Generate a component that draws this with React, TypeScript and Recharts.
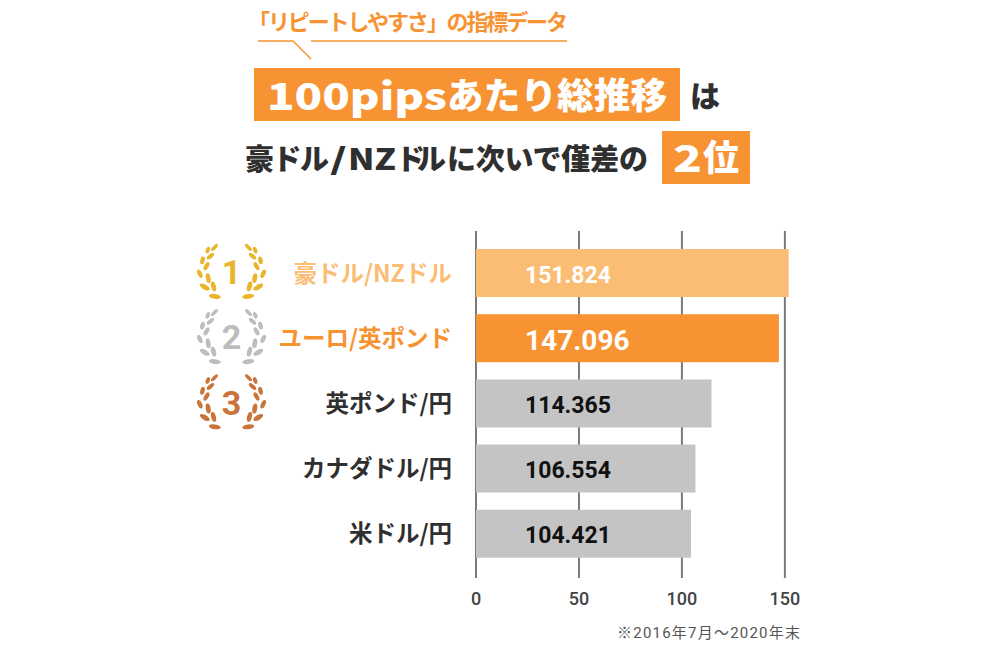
import { BarChart, Bar, XAxis, YAxis, CartesianGrid, Cell, LabelList } from 'recharts';

const pairs = ['豪ドル/NZドル', 'ユーロ/英ポンド', '英ポンド/円', 'カナダドル/円', '米ドル/円'];
const totals = [151.824, 147.096, 114.365, 106.554, 104.421];
const xTicks = [0, 50, 100, 150];
const ranks = ['1', '2', '3'];

const chartData = pairs.map((pair, i) => ({ pair, total: totals[i] }));

const ORANGE = '#f79332';
const LIGHT_ORANGE = '#fbbd74';
const GRAY = '#c4c4c4';
const DARK = '#2f2f2f';
const barColors = [LIGHT_ORANGE, ORANGE, GRAY, GRAY, GRAY];
const labelColors = [LIGHT_ORANGE, ORANGE, DARK, DARK, DARK];
const rankColors = ['#e9b52c', '#bdbdbd', '#c8743a'];

const JP = '"Noto Sans CJK JP", sans-serif';
const NUM = 'Roboto, "Noto Sans CJK JP", sans-serif';

// one side of the laurel: dx, dy, rx, ry, rotation
const leaves = [
  [-17, -24.7, 4.5, 1.8, -45],
  [-23.7, -22, 3.5, 2, -70],
  [-21, -16, 4.5, 2, -40],
  [-29, -11.7, 4, 2.2, -75],
  [-25, -6, 4.5, 2.2, -60],
  [-31.7, 1.7, 4.5, 2.2, 65],
  [-23.3, 6, 5, 2.4, 80],
  [-26.7, 15, 5.5, 2.5, 30],
  [-18, 14.3, 5, 2.4, 75],
  [-16.7, 24.3, 6, 2.4, 8],
];

function Wreath({ cx, cy, rank, color }: { cx: number; cy: number; rank: string; color: string }) {
  return (
    <g>
      {leaves.map(([dx, dy, rx, ry, rot], i) => (
        <g key={i}>
          <ellipse cx={cx + dx} cy={cy + dy} rx={rx} ry={ry} fill={color} transform={`rotate(${rot} ${cx + dx} ${cy + dy})`} />
          <ellipse cx={cx - dx} cy={cy + dy} rx={rx} ry={ry} fill={color} transform={`rotate(${-rot} ${cx - dx} ${cy + dy})`} />
        </g>
      ))}
      <text x={cx} y={cy + 12} textAnchor="middle" fontFamily={NUM} fontWeight={700} fontSize={34} fill={color}>
        {rank}
      </text>
    </g>
  );
}

function PairTick({ x, y, payload, index }: any) {
  return (
    <g>
      {index < ranks.length && <Wreath cx={231.5} cy={y - 0.5} rank={ranks[index]} color={rankColors[index]} />}
      <text x={x - 16} y={y - 1} textAnchor="end" dominantBaseline="central" fontFamily={JP} fontWeight={700} fontSize={23.5} fill={labelColors[index]}>
        {payload.value}
      </text>
    </g>
  );
}

function ValueLabel({ x, y, height, value, index }: any) {
  return (
    <text x={x + 49} y={y + height / 2 + 2} dominantBaseline="central" fontFamily={NUM} fontWeight={700} fontSize={index === 1 ? 28 : 23} fill={index < 2 ? '#ffffff' : '#111111'}>
      {value.toFixed(3)}
    </text>
  );
}

function Heading() {
  const sub = { fontFamily: JP, fontWeight: 900, fontSize: 29, fill: DARK };
  return (
    <svg width={998} height={650} style={{ position: 'absolute', left: 0, top: 0 }}>
      <text x={248} y={30} textLength={320} fontFamily={JP} fontWeight={700} fontSize={22} fill={ORANGE}>
        「リピートしやすさ」の指標データ
      </text>
      <polyline points="258,41 293,41 311,59" fill="none" stroke={ORANGE} strokeWidth={1.5} />
      <line x1={311} y1={41} x2={567} y2={41} stroke={ORANGE} strokeWidth={1.5} />

      <rect x={254} y={68} width={426} height={53} fill={ORANGE} />
      <text x={267} y={110} textLength={180} lengthAdjust="spacingAndGlyphs" fontFamily={JP} fontWeight={900} fontSize={37} fill="#ffffff">
        100pips
      </text>
      <text x={447} y={109} textLength={220} fontFamily={JP} fontWeight={900} fontSize={36.5} fill="#ffffff">
        あたり総推移
      </text>
      <text x={690} y={107} fontFamily={JP} fontWeight={900} fontSize={30} fill={DARK}>
        は
      </text>

      <text x={245} y={170} textLength={84} {...sub}>豪ドル</text>
      <text x={330} y={170} textLength={17} lengthAdjust="spacingAndGlyphs" {...sub}>/</text>
      <text x={348} y={170} textLength={48} lengthAdjust="spacingAndGlyphs" {...sub}>NZ</text>
      <text x={396} y={170} textLength={50} {...sub}>ドル</text>
      <text x={447} y={170} textLength={201} {...sub}>に次いで僅差の</text>

      <rect x={662} y={131} width={88} height={53} fill={ORANGE} />
      <text x={673} y={172} textLength={29} lengthAdjust="spacingAndGlyphs" fontFamily={JP} fontWeight={900} fontSize={37} fill="#ffffff">
        2
      </text>
      <text x={703} y={171} fontFamily={JP} fontWeight={900} fontSize={36} fill="#ffffff">
        位
      </text>

      <text x={617} y={638} textLength={183} fontFamily={NUM} fontWeight={400} fontSize={15} fill="#555555">
        ※2016年7月～2020年末
      </text>
    </svg>
  );
}

export default function App() {
  return (
    <div style={{ position: 'absolute', left: 0, top: 0, width: 998, height: 650, background: '#ffffff' }}>
      <Heading />
      <div style={{ position: 'absolute', left: 0, top: 0 }}>
        <BarChart
          width={998}
          height={650}
          data={chartData}
          layout="vertical"
          margin={{ top: 231, right: 209, bottom: 0, left: 0 }}
          barSize={48}
        >
          <CartesianGrid horizontal={false} vertical verticalValues={xTicks} stroke="#7a7a7a" strokeWidth={2} />
          <XAxis
            type="number"
            domain={[0, 152]}
            ticks={xTicks}
            height={72}
            axisLine={false}
            tickLine={false}
            tick={{ fill: '#444444', fontSize: 18, fontFamily: NUM, fontWeight: 500 }}
            tickMargin={8}
          />
          <YAxis
            type="category"
            dataKey="pair"
            width={476}
            axisLine={false}
            tickLine={false}
            padding={{ top: 9, bottom: 12 }}
            interval={0}
            tick={<PairTick />}
          />
          <Bar dataKey="total" isAnimationActive={false}>
            {chartData.map((d, i) => (
              <Cell key={d.pair} fill={barColors[i]} />
            ))}
            <LabelList dataKey="total" content={<ValueLabel />} />
          </Bar>
        </BarChart>
      </div>
    </div>
  );
}
